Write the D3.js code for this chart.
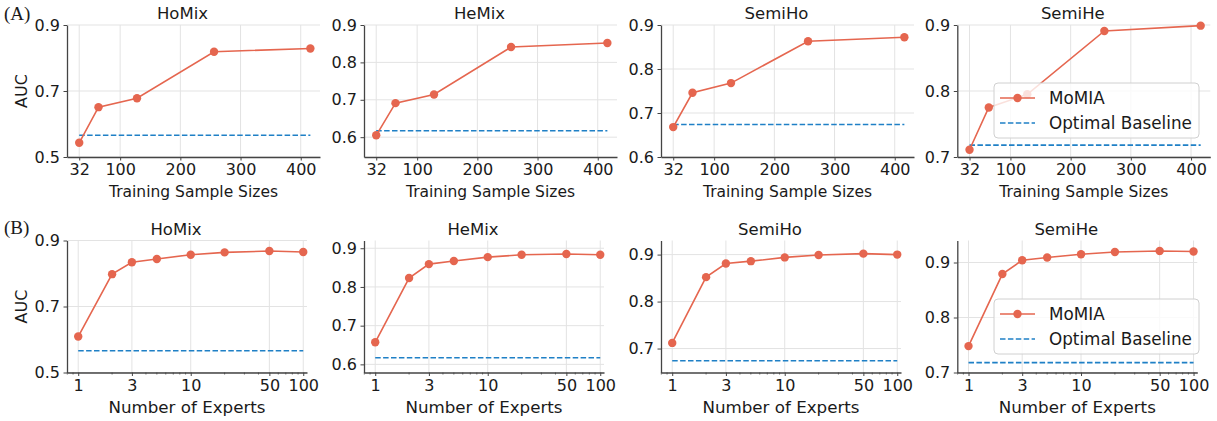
<!DOCTYPE html>
<html>
<head>
<meta charset="utf-8">
<script src="https://cdn.jsdelivr.net/npm/d3@7"></script>
<style>
  body { margin: 0; background: #fff; }
  svg text { font-family: "DejaVu Sans", sans-serif; fill: #1a1a1a; }
</style>
</head>
<body>
<svg id="chart" width="1217" height="421"></svg>
<script>
// ---- data ----
var datasets = ["HoMix", "HeMix", "SemiHo", "SemiHe"];

// (A) training sample size sweep
var sampleSizes = [32, 64, 128, 256, 416];
var sizeTicks = [32, 100, 200, 300, 400];
var sizeHoMix  = [0.543, 0.651, 0.678, 0.819, 0.829];
var sizeHeMix  = [0.605, 0.691, 0.714, 0.841, 0.852];
var sizeSemiHo = [0.668, 0.746, 0.768, 0.863, 0.872];
var sizeSemiHe = [0.711, 0.775, 0.795, 0.891, 0.899];

// (B) number of experts sweep
var expertCounts = [1, 2, 3, 5, 10, 20, 50, 100];
var expertTicks = [1, 3, 10, 50, 100];
var expertHoMix  = [0.609, 0.798, 0.834, 0.844, 0.857, 0.864, 0.868, 0.865];
var expertHeMix  = [0.657, 0.823, 0.859, 0.867, 0.877, 0.883, 0.885, 0.883];
var expertSemiHo = [0.712, 0.852, 0.881, 0.886, 0.894, 0.899, 0.902, 0.900];
var expertSemiHe = [0.748, 0.879, 0.904, 0.909, 0.915, 0.919, 0.921, 0.920];

// optimal baseline per dataset
var baselineAUC = [0.566, 0.617, 0.674, 0.718];

// y axes per panel
var yDomTop = [[0.5, 0.9], [0.547, 0.9], [0.6, 0.9], [0.7, 0.9]];
var yDomBot = [[0.5, 0.9], [0.579, 0.92], [0.649, 0.93], [0.7, 0.94]];
var yTicksTop = [[0.5, 0.7, 0.9], [0.6, 0.7, 0.8, 0.9], [0.6, 0.7, 0.8, 0.9], [0.7, 0.8, 0.9]];
var yTicksBot = [[0.5, 0.7, 0.9], [0.6, 0.7, 0.8, 0.9], [0.7, 0.8, 0.9], [0.7, 0.8, 0.9]];

var sizeSeries = [sizeHoMix, sizeHeMix, sizeSemiHo, sizeSemiHe];
var expertSeries = [expertHoMix, expertHeMix, expertSemiHo, expertSemiHe];

var red = "#e5664f", blue = "#1f80c6", spine = "#444", gridC = "#e3e3e3";
var lefts = [67, 364, 661, 957.3];

var svg = d3.select("#chart");

function panel(i, row) {
  var top = row == 0 ? 25 : 240.5;
  var bottom = top + 132;
  var left = lefts[i];
  var w = row == 0 ? 253 : 240;
  var x, xs, ys, ticks, ydom, yt, label;
  if (row == 0) {
    x = d3.scaleLinear().domain([11.7, 432]).range([left, left + w]);
    xs = sampleSizes; ys = sizeSeries[i]; ticks = sizeTicks;
    ydom = yDomTop[i]; yt = yTicksTop[i]; label = "Training Sample Sizes";
  } else {
    x = d3.scaleLog().domain([0.795, 108]).range([left, left + w]);
    xs = expertCounts; ys = expertSeries[i]; ticks = expertTicks;
    ydom = yDomBot[i]; yt = yTicksBot[i]; label = "Number of Experts";
  }
  var y = d3.scaleLinear().domain(ydom).range([bottom, top]);
  var g = svg.append("g");

  // grid
  g.selectAll(".gx").data(ticks).enter().append("line")
    .attr("x1", d => x(d)).attr("x2", d => x(d))
    .attr("y1", top).attr("y2", bottom)
    .attr("stroke", gridC).attr("stroke-width", 1);
  g.selectAll(".gy").data(yt).enter().append("line")
    .attr("x1", left).attr("x2", left + w)
    .attr("y1", d => y(d)).attr("y2", d => y(d))
    .attr("stroke", gridC).attr("stroke-width", 1);

  // x axis
  var xa = d3.axisBottom(x).tickValues(ticks).tickFormat(d3.format("d"))
    .tickSizeInner(3.5).tickSizeOuter(0).tickPadding(3.5);
  var gx = g.append("g").attr("transform", "translate(0," + bottom + ")").call(xa);
  if (row == 1) {
    var minors = [];
    [0.1, 1, 10].forEach(function(dec) {
      for (var k = 1; k < 10; k++) {
        var v = +(k * dec).toPrecision(3);
        if (v >= 0.795 && v <= 108 && ticks.indexOf(v) < 0) minors.push(v);
      }
    });
    g.selectAll(".mt").data(minors).enter().append("line")
      .attr("x1", d => x(d)).attr("x2", d => x(d))
      .attr("y1", bottom).attr("y2", bottom + 2)
      .attr("stroke", spine).attr("stroke-width", 0.8);
  }
  // y axis
  var ya = d3.axisLeft(y).tickValues(yt).tickFormat(d3.format(".1f"))
    .tickSizeInner(3.5).tickSizeOuter(0).tickPadding(3.5);
  var gy = g.append("g").attr("transform", "translate(" + left + ",0)").call(ya);

  [gx, gy].forEach(function(a) {
    a.select(".domain").attr("stroke", spine).attr("stroke-width", 1.3);
    a.selectAll(".tick line").attr("stroke", spine).attr("stroke-width", 1);
    a.selectAll(".tick text").attr("font-size", 16).attr("fill", "#1a1a1a")
      .attr("font-family", "DejaVu Sans");
  });

  // baseline
  g.append("line")
    .attr("x1", x(xs[0])).attr("x2", x(xs[xs.length - 1]))
    .attr("y1", y(baselineAUC[i])).attr("y2", y(baselineAUC[i]))
    .attr("stroke", blue).attr("stroke-width", 1.6).attr("stroke-dasharray", "5.5,2.4");

  // MoMIA
  var pts = xs.map((v, k) => [v, ys[k]]);
  g.append("path").datum(pts)
    .attr("d", d3.line().x(d => x(d[0])).y(d => y(d[1])))
    .attr("fill", "none").attr("stroke", red).attr("stroke-width", 1.6);
  g.selectAll(".pt").data(pts).enter().append("circle")
    .attr("cx", d => x(d[0])).attr("cy", d => y(d[1])).attr("r", 4.2)
    .attr("fill", red);

  // titles & labels
  g.append("text").attr("x", left + w / 2 - 11).attr("y", top - 6)
    .attr("text-anchor", "middle").attr("font-size", 16.5).text(datasets[i]);
  g.append("text").attr("x", left + w / 2).attr("y", bottom + 40)
    .attr("text-anchor", "middle").attr("font-size", row == 0 ? 15.5 : 16.7).text(label);
  if (i == 0) {
    g.append("text")
      .attr("transform", "translate(27," + (top + bottom) / 2 + ") rotate(-90)")
      .attr("text-anchor", "middle").attr("font-size", 16).text("AUC");
  }

  if (i == 3) {
    var ly = row == 0 ? 83 : 299;
    var lg = g.append("g");
    lg.append("rect").attr("x", 994).attr("y", ly).attr("width", 205).attr("height", 55)
      .attr("rx", 4).attr("fill", "#fff").attr("fill-opacity", 0.8)
      .attr("stroke", "#d0d0d0").attr("stroke-width", 1);
    lg.append("line").attr("x1", 1000).attr("x2", 1035).attr("y1", ly + 15).attr("y2", ly + 15)
      .attr("stroke", red).attr("stroke-width", 1.6);
    lg.append("circle").attr("cx", 1017.5).attr("cy", ly + 15).attr("r", 4.2).attr("fill", red);
    lg.append("line").attr("x1", 1000).attr("x2", 1035).attr("y1", ly + 40).attr("y2", ly + 40)
      .attr("stroke", blue).attr("stroke-width", 1.6).attr("stroke-dasharray", "5.5,2.4");
    lg.append("text").attr("x", 1049).attr("y", ly + 21).attr("font-size", 16.8).text("MoMIA");
    lg.append("text").attr("x", 1049).attr("y", ly + 46).attr("font-size", 16.8).text("Optimal Baseline");
  }
}

for (var r = 0; r < 2; r++)
  for (var i = 0; i < 4; i++) panel(i, r);

svg.append("text").attr("x", 4).attr("y", 20).attr("font-size", 19)
  .style("font-family", "'Liberation Serif', serif").text("(A)");
svg.append("text").attr("x", 4).attr("y", 234).attr("font-size", 19)
  .style("font-family", "'Liberation Serif', serif").text("(B)");
</script>
</body>
</html>
